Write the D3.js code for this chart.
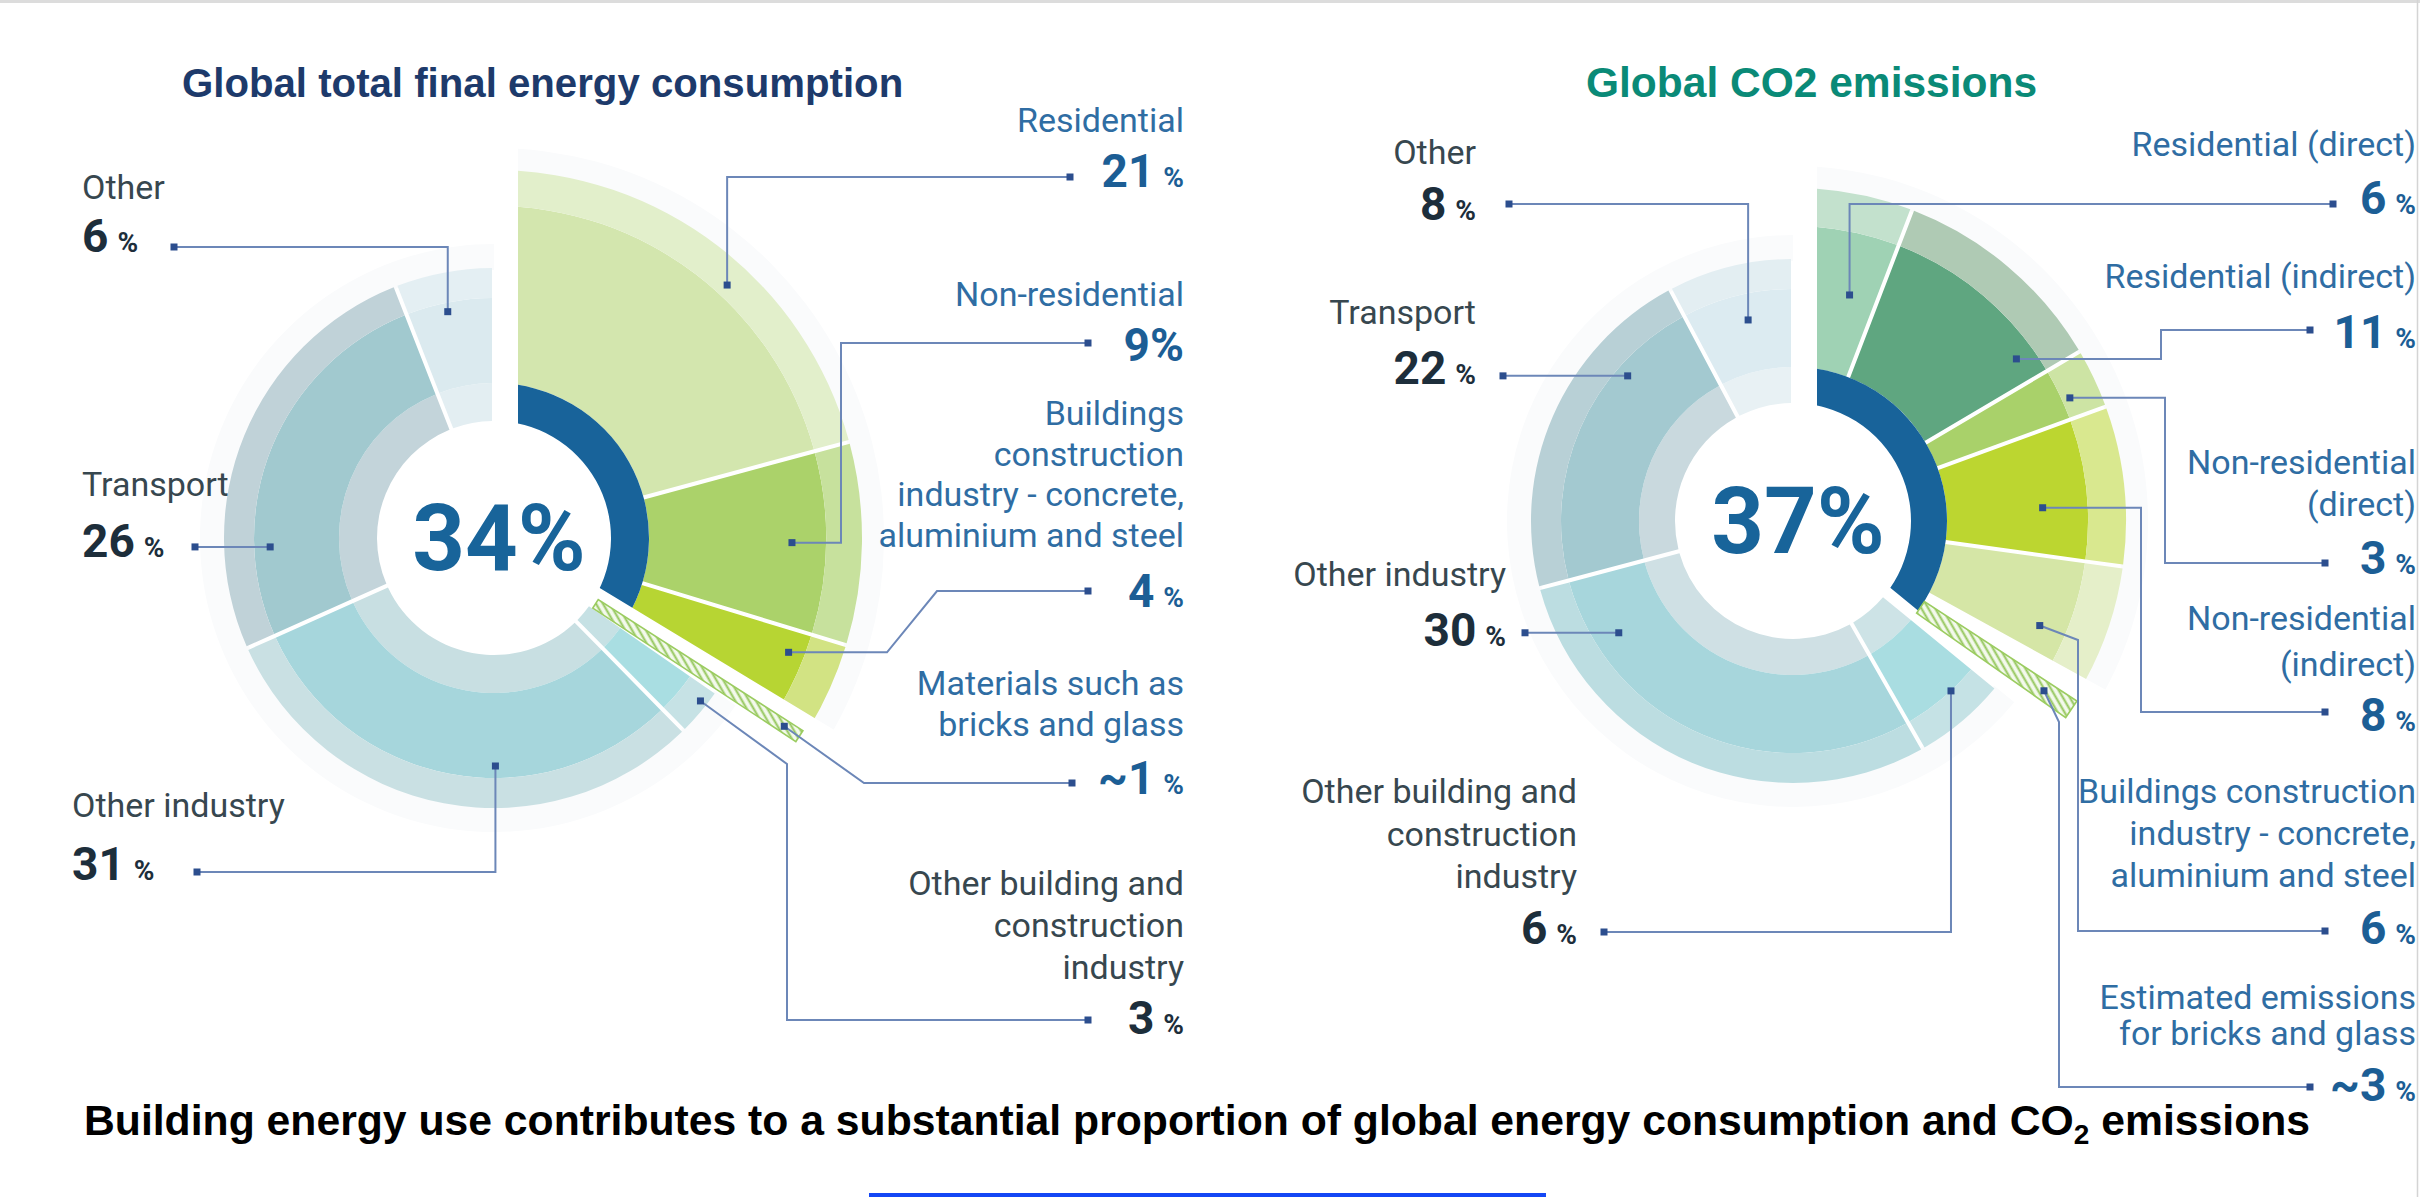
<!DOCTYPE html>
<html>
<head>
<meta charset="utf-8">
<script src="https://cdn.jsdelivr.net/npm/d3@7"></script>
<style>
  html, body { margin: 0; padding: 0; background: #fff; }
  svg { display: block; }
  .title { font-family: "Liberation Sans", Arial, sans-serif; font-weight: 700; }
  .name { font-family: Roboto, "Noto Sans", sans-serif; font-size: 34px; }
  .value { font-family: Roboto, "Noto Sans", sans-serif; font-weight: 700; }
  .center { font-family: Roboto, "Noto Sans", sans-serif; font-weight: 700; font-size: 92px; fill: #18649a; }
</style>
</head>
<body>
<svg id="chart" width="2420" height="1197"></svg>
<script>
// ---------------- data ----------------
const energyCategories = [
  "Residential", "Non-residential",
  "Buildings construction industry - concrete, aluminium and steel",
  "Materials such as bricks and glass",
  "Other building and construction industry",
  "Other industry", "Transport", "Other"
];
const energyShares = [21, 9, 4, 1, 3, 31, 26, 6];
const energyValueLabels = ["21", "9", "4", "~1", "3", "31", "26", "6"];
const energyKinds = ["bldg", "bldg", "bldg", "hatch", "other", "other", "other", "other"];
const energyBuildingShare = 34;

const co2Categories = [
  "Residential (direct)", "Residential (indirect)",
  "Non-residential (direct)", "Non-residential (indirect)",
  "Buildings construction industry - concrete, aluminium and steel",
  "Estimated emissions for bricks and glass",
  "Other building and construction industry",
  "Other industry", "Transport", "Other"
];
const co2Shares = [6, 11, 3, 8, 6, 3, 6, 30, 22, 8];
const co2ValueLabels = ["6", "11", "3", "8", "6", "~3", "6", "30", "22", "8"];
const co2Kinds = ["bldg", "bldg", "bldg", "bldg", "bldg", "hatch", "other", "other", "other", "other"];
const co2BuildingShare = 37;

const chartTitles = ["Global total final energy consumption", "Global CO2 emissions"];

// ---------------- styles ----------------
const energyFills = [
  { main: "#d3e6ae", band: "#e2efcb" },
  { main: "#abd26a", band: "#c7e19d" },
  { main: "#b7d533", band: "#d2e383" },
  null,
  { inner: "#c6e1e4", main: "#a9dee2", band: "#c6e2e5" },
  { inner: "#c8dfe2", main: "#a6d6dc", band: "#c9e0e3" },
  { inner: "#c3d4da", main: "#a1c9cf", band: "#c0d2d8" },
  { inner: "#e3eef2", main: "#dbeaef", band: "#e4eff3" }
];
const co2Fills = [
  { main: "#9fd2b4", band: "#c3e1cd" },
  { main: "#5fa680", band: "#afcab4" },
  { main: "#a9d16a", band: "#cde4a4" },
  { main: "#bcd630", band: "#d9e88f" },
  { main: "#d5e6a6", band: "#e5efc9" },
  null,
  { inner: "#cde3e6", main: "#a9dde1", band: "#c5e2e5" },
  { inner: "#cfe0e4", main: "#a7d6dc", band: "#bcdde1" },
  { inner: "#c9d9de", main: "#a3c9d0", band: "#b8d0d6" },
  { inner: "#e8f1f4", main: "#dcebf1", band: "#e3eef2" }
];

const BLUE_NAME = "#2f6da3", DARK_NAME = "#37474f";
const BLUE_VALUE = "#1c5e95", DARK_VALUE = "#1d2e3b";
const HALO = "#fafbfc";

// geometry of each donut
const energyGeom = {
  cx: 494, cy: 538, rHole: 117, rRing: 155, rMainO: 240, rBandO: 270, rHaloO: 294,
  rMainB: 332, rBandB: 368, rHaloB: 390, startOff: 24, endOff: 12, blueEndOff: 12, sep: 4,
  hatch: { r0: 121, r1: 364, w0: 10, w1: 13 }
};
const co2Geom = {
  cx: 1793, cy: 521, rHole: 118, rRing: 154, rMainO: 232, rBandO: 262, rHaloO: 286,
  rMainB: 295, rBandB: 333, rHaloB: 355, startOff: 24, endOff: 3, blueEndOff: 10, sep: 4,
  hatch: { r0: 154, r1: 336, w0: 14, w1: 20 }
};

// label layout: text lines, positions and connector routes
const energyLabelLayout = [
  { lines: ["Residential"], x: 1184, anchor: "end", nameY: [132], valueY: 187, pct: "small", blue: true,
    at: { t: 0.57, r: 344 }, route: [["v", 177]], dot: [1070, 177] },
  { lines: ["Non-residential"], x: 1184, anchor: "end", nameY: [306], valueY: 361, pct: "big", blue: true,
    at: { t: 0.5, r: 298 }, route: [["h", 841], ["v", 343]], dot: [1088, 343] },
  { lines: ["Buildings", "construction", "industry - concrete,", "aluminium and steel"], x: 1184, anchor: "end",
    nameY: [425, 466, 506, 547], valueY: 607, pct: "small", blue: true,
    at: { t: 0.3, r: 316 }, route: [["h", 887], ["p", 937, 591]], dot: [1088, 591] },
  { lines: ["Materials such as", "bricks and glass"], x: 1184, anchor: "end", nameY: [695, 736], valueY: 794,
    pct: "small", blue: true, at: { t: 0.5, r: 346 }, route: [["p", 864, 783]], dot: [1072, 783] },
  { lines: ["Other building and", "construction", "industry"], x: 1184, anchor: "end", nameY: [895, 937, 979],
    valueY: 1034, pct: "small", blue: false, at: { t: 0.33, r: 263 }, route: [["p", 787, 764], ["v", 1020]], dot: [1088, 1020] },
  { lines: ["Other industry"], x: 72, anchor: "start", nameY: [817], valueY: 880, pct: "small", blue: false,
    at: { t: 0.4, r: 228 }, route: [["v", 872]], dot: [197, 872] },
  { lines: ["Transport"], x: 82, anchor: "start", nameY: [496], valueY: 557, pct: "small", blue: false,
    at: { t: 0.235, r: 224 }, route: [], dot: [195, null] },
  { lines: ["Other"], x: 82, anchor: "start", nameY: [199], valueY: 252, pct: "small", blue: false,
    at: { t: 0.46, r: 231 }, route: [["v", 247]], dot: [174, 247] }
];

const co2LabelLayout = [
  { lines: ["Residential (direct)"], x: 2416, anchor: "end", nameY: [156], valueY: 214, pct: "small", blue: true,
    at: { t: 0.67, r: 233 }, route: [["v", 204]], dot: [2333, 204] },
  { lines: ["Residential (indirect)"], x: 2416, anchor: "end", nameY: [288], valueY: 348, pct: "small", blue: true,
    at: { t: 0.86, r: 276 }, route: [["h", 2161], ["v", 330]], dot: [2310, 330] },
  { lines: ["Non-residential", "(direct)"], x: 2416, anchor: "end", nameY: [474, 516], valueY: 574, pct: "small", blue: true,
    at: { t: 0.63, r: 303 }, route: [["h", 2165], ["v", 563]], dot: [2325, 563] },
  { lines: ["Non-residential", "(indirect)"], x: 2416, anchor: "end", nameY: [630, 676], valueY: 731, pct: "small", blue: true,
    at: { t: 0.61, r: 250 }, route: [["h", 2141], ["v", 712]], dot: [2325, 712] },
  { lines: ["Buildings construction", "industry - concrete,", "aluminium and steel"], x: 2416, anchor: "end",
    nameY: [803, 845, 887], valueY: 944, pct: "small", blue: true,
    at: { t: 0.72, r: 268 }, route: [["p", 2078, 640], ["v", 931]], dot: [2325, 931] },
  { lines: ["Estimated emissions", "for bricks and glass"], x: 2416, anchor: "end", nameY: [1009, 1045], valueY: 1101,
    pct: "small", blue: true, at: { t: 0.5, r: 303 }, route: [["p", 2059, 722], ["v", 1087]], dot: [2310, 1087] },
  { lines: ["Other building and", "construction", "industry"], x: 1577, anchor: "end", nameY: [803, 846, 888],
    valueY: 944, pct: "small", blue: false, at: { t: 0.37, r: 232 }, route: [["v", 932]], dot: [1604, 932] },
  { lines: ["Other industry"], x: 1506, anchor: "end", nameY: [586], valueY: 646, pct: "small", blue: false,
    at: { t: 0.83, r: 207 }, route: [], dot: [1525, null] },
  { lines: ["Transport"], x: 1476, anchor: "end", nameY: [324], valueY: 384, pct: "small", blue: false,
    at: { t: 0.73, r: 220 }, route: [], dot: [1503, null] },
  { lines: ["Other"], x: 1476, anchor: "end", nameY: [164], valueY: 220, pct: "small", blue: false,
    at: { t: 0.55, r: 206 }, route: [["v", 204]], dot: [1509, 204] }
];

// ---------------- drawing ----------------
const svg = d3.select("#chart");
const defs = svg.append("defs");

// diagonal hatch used for the bricks / glass slice
const pat = defs.append("pattern")
  .attr("id", "hatch").attr("patternUnits", "userSpaceOnUse")
  .attr("width", 6).attr("height", 6)
  .attr("patternTransform", "rotate(-30)");
pat.append("rect").attr("width", 6).attr("height", 6).attr("fill", "#f3f9ec");
pat.append("line").attr("x1", 1.5).attr("y1", 0).attr("x2", 1.5).attr("y2", 6)
  .attr("stroke", "#93c65a").attr("stroke-width", 2);

// page frame
svg.append("rect").attr("x", 0).attr("y", 0).attr("width", 2420).attr("height", 3).attr("fill", "#dcdcdc");
svg.append("line").attr("x1", 2417.5).attr("x2", 2417.5).attr("y1", 0).attr("y2", 1197)
  .attr("stroke", "#d4d4d4").attr("stroke-width", 1.5);

// wedge whose two straight edges are shifted inwards by off0 / off1 pixels
function offsetWedge(a0, a1, off0, off1, R) {
  const e = a => [Math.sin(a), -Math.cos(a)];
  const e0 = e(a0), e1 = e(a1);
  const p0 = [off0 * Math.cos(a0), off0 * Math.sin(a0)];
  const p1 = [-off1 * Math.cos(a1), -off1 * Math.sin(a1)];
  const dx = p1[0] - p0[0], dy = p1[1] - p0[1];
  const det = -e0[0] * e1[1] + e1[0] * e0[1];
  const s = (-dx * e1[1] + e1[0] * dy) / det;
  const apex = [p0[0] + s * e0[0], p0[1] + s * e0[1]];
  const pts = [apex, [apex[0] + R * e0[0], apex[1] + R * e0[1]]];
  const n = 48;
  for (let i = 1; i < n; i++) {
    const a = a0 + (a1 - a0) * i / n;
    pts.push([R * Math.sin(a), -R * Math.cos(a)]);
  }
  pts.push([apex[0] + R * e1[0], apex[1] + R * e1[1]]);
  return "M" + pts.map(p => p[0].toFixed(2) + "," + p[1].toFixed(2)).join("L") + "Z";
}

function drawDonut(id, values, kinds, valueLabels, fills, buildingShare, geom, layout, centerLabel) {
  const G = geom;
  const slices = d3.pie().sort(null).value(d => d)(values);
  const total = d3.sum(values);
  const angle = d3.scaleLinear().domain([0, total]).range([0, 2 * Math.PI]);

  const root = svg.append("g").attr("transform", `translate(${G.cx},${G.cy})`);

  const padded = d3.arc().padRadius(200).padAngle(G.sep / 200);
  const plain = d3.arc();

  const bIdx = kinds.map((k, i) => k === "bldg" ? i : -1).filter(i => i >= 0);
  const bEnd = slices[bIdx[bIdx.length - 1]].endAngle;
  const hIdx = kinds.indexOf("hatch");
  const oStart = slices[hIdx].endAngle;

  // clip regions for the building group
  defs.append("clipPath").attr("id", id + "-bclip")
    .append("path").attr("d", offsetWedge(0, bEnd, G.startOff, G.endOff, 900));
  const blueEnd = angle(buildingShare);
  defs.append("clipPath").attr("id", id + "-blueclip")
    .append("path").attr("d", offsetWedge(0, blueEnd, G.startOff, G.blueEndOff, 900));

  // faint outer halo
  root.append("path").attr("fill", HALO)
    .attr("d", plain({ innerRadius: G.rBandO - 2, outerRadius: G.rHaloO, startAngle: oStart, endAngle: 2 * Math.PI }));
  const bg = root.append("g").attr("clip-path", `url(#${id}-bclip)`);
  bg.append("path").attr("fill", HALO)
    .attr("d", plain({ innerRadius: G.rBandB - 2, outerRadius: G.rHaloB, startAngle: 0, endAngle: bEnd }));

  // non-building slices: inner ring, main body, outer band
  slices.forEach((s, i) => {
    if (kinds[i] !== "other") return;
    const f = fills[i];
    [[G.rHole, G.rRing, f.inner], [G.rRing, G.rMainO, f.main], [G.rMainO, G.rBandO, f.band]].forEach(([r0, r1, c]) => {
      root.append("path").attr("fill", c)
        .attr("d", padded({ innerRadius: r0, outerRadius: r1, startAngle: s.startAngle, endAngle: s.endAngle }));
    });
  });

  // building slices
  slices.forEach((s, i) => {
    if (kinds[i] !== "bldg") return;
    const f = fills[i];
    [[G.rRing, G.rMainB, f.main], [G.rMainB, G.rBandB, f.band]].forEach(([r0, r1, c]) => {
      bg.append("path").attr("fill", c)
        .attr("d", padded({ innerRadius: r0, outerRadius: r1, startAngle: s.startAngle, endAngle: s.endAngle }));
    });
  });

  // share of buildings: dark blue inner arc
  root.append("g").attr("clip-path", `url(#${id}-blueclip)`)
    .append("path").attr("fill", "#18639a")
    .attr("d", plain({ innerRadius: G.rHole, outerRadius: G.rRing, startAngle: 0, endAngle: blueEnd }));

  // hatched strip for bricks and glass
  const hs = slices[hIdx];
  const am = (hs.startAngle + hs.endAngle) / 2;
  const ex = Math.sin(am), ey = -Math.cos(am), nx = Math.cos(am), ny = Math.sin(am);
  const H = G.hatch;
  const quad = [
    [H.r0 * ex + nx * H.w0 / 2, H.r0 * ey + ny * H.w0 / 2],
    [H.r1 * ex + nx * H.w1 / 2, H.r1 * ey + ny * H.w1 / 2],
    [H.r1 * ex - nx * H.w1 / 2, H.r1 * ey - ny * H.w1 / 2],
    [H.r0 * ex - nx * H.w0 / 2, H.r0 * ey - ny * H.w0 / 2]
  ];
  root.append("path").attr("d", "M" + quad.map(p => p.join(",")).join("L") + "Z")
    .attr("fill", "url(#hatch)").attr("stroke", "#9bcc60").attr("stroke-width", 1.6);

  // centre figure
  root.append("text").attr("class", "center").attr("text-anchor", "middle")
    .attr("x", 5).attr("y", 32).text(centerLabel);

  // labels and leader lines
  const lineGen = d3.line();
  layout.forEach((L, i) => {
    const s = slices[i];
    let a, r = L.at.r;
    if (kinds[i] === "hatch") a = am;
    else a = s.startAngle + L.at.t * (s.endAngle - s.startAngle);
    const A = [G.cx + r * Math.sin(a), G.cy - r * Math.cos(a)];
    const pts = [A];
    L.route.forEach(step => {
      const last = pts[pts.length - 1];
      if (step[0] === "h") pts.push([step[1], last[1]]);
      else if (step[0] === "v") pts.push([last[0], step[1]]);
      else pts.push([step[1], step[2]]);
    });
    const lastP = pts[pts.length - 1];
    const D = [L.dot[0], L.dot[1] == null ? lastP[1] : L.dot[1]];
    pts.push(D);
    svg.append("path").attr("d", lineGen(pts)).attr("fill", "none")
      .attr("stroke", "#6c87b8").attr("stroke-width", 2);
    [A, D].forEach(p => {
      svg.append("rect").attr("x", p[0] - 3.5).attr("y", p[1] - 3.5)
        .attr("width", 7).attr("height", 7).attr("fill", "#2c4e8e");
    });

    const nameColor = L.blue ? BLUE_NAME : DARK_NAME;
    L.lines.forEach((ln, k) => {
      svg.append("text").attr("class", "name").attr("x", L.x).attr("y", L.nameY[k])
        .attr("text-anchor", L.anchor).attr("fill", nameColor).text(ln);
    });
    const vt = svg.append("text").attr("class", "value").attr("x", L.x).attr("y", L.valueY)
      .attr("text-anchor", L.anchor).attr("fill", L.blue ? BLUE_VALUE : DARK_VALUE);
    vt.append("tspan").attr("font-size", 46).text(valueLabels[i]);
    if (L.pct === "big") vt.append("tspan").attr("font-size", 46).text("%");
    else vt.append("tspan").attr("font-size", 28).attr("dx", 9).text("%");
  });
}

drawDonut("energy", energyShares, energyKinds, energyValueLabels, energyFills, energyBuildingShare,
  energyGeom, energyLabelLayout, energyBuildingShare + "%");
drawDonut("co2", co2Shares, co2Kinds, co2ValueLabels, co2Fills, co2BuildingShare,
  co2Geom, co2LabelLayout, co2BuildingShare + "%");

// chart titles
svg.append("text").attr("class", "title").attr("x", 182).attr("y", 97).style("font-size", "40.2px")
  .attr("fill", "#1d3a6b").text(chartTitles[0]);
svg.append("text").attr("class", "title").attr("x", 1586).attr("y", 97).style("font-size", "42.5px")
  .attr("fill", "#0a8a77").text(chartTitles[1]);

// caption
const cap = svg.append("text").attr("class", "title").attr("x", 84).attr("y", 1135).attr("fill", "#000")
  .style("font-size", "42.7px");
cap.append("tspan").text("Building energy use contributes to a substantial proportion of global energy consumption and CO");
cap.append("tspan").style("font-size", "28px").attr("dy", 9).text("2");
cap.append("tspan").attr("dy", -9).text(" emissions");

// accent rule at the foot of the page
svg.append("rect").attr("x", 869).attr("y", 1193).attr("width", 677).attr("height", 4).attr("fill", "#1447f5");
</script>
</body>
</html>
